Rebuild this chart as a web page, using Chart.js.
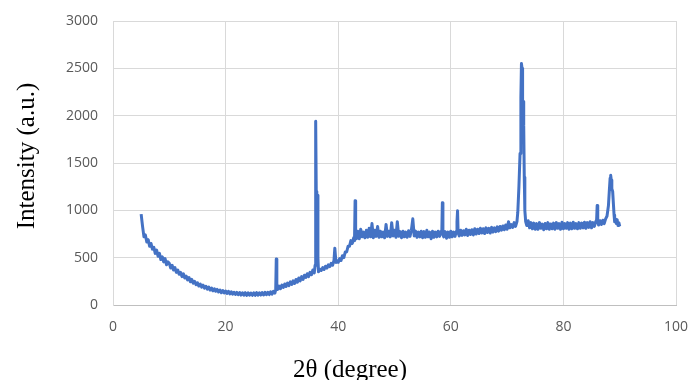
<!DOCTYPE html>
<html>
<head>
<meta charset="utf-8">
<script src="https://cdn.jsdelivr.net/npm/chart.js@4"></script>
<style>
  html, body { margin: 0; padding: 0; background: #ffffff; }
  #wrap { width: 690px; height: 380px; }
</style>
</head>
<body>
<div id="wrap"><canvas id="xrd"></canvas></div>
<script>
// 2θ (degree)
const twoTheta = [
  5.0, 5.25, 5.5, 5.75, 6.0, 6.25, 6.5, 6.75, 7.0, 7.25,
  7.5, 7.75, 8.0, 8.25, 8.5, 8.75, 9.0, 9.25, 9.5, 9.75,
  10.0, 10.25, 10.5, 10.75, 11.0, 11.25, 11.5, 11.75, 12.0, 12.25,
  12.5, 12.75, 13.0, 13.25, 13.5, 13.75, 14.0, 14.25, 14.5, 14.75,
  15.0, 15.25, 15.5, 15.75, 16.0, 16.25, 16.5, 16.75, 17.0, 17.25,
  17.5, 17.75, 18.0, 18.25, 18.5, 18.75, 19.0, 19.25, 19.5, 19.75,
  20.0, 20.25, 20.5, 20.75, 21.0, 21.25, 21.5, 21.75, 22.0, 22.25,
  22.5, 22.75, 23.0, 23.25, 23.5, 23.75, 24.0, 24.25, 24.5, 24.75,
  25.0, 25.25, 25.5, 25.75, 26.0, 26.25, 26.5, 26.75, 27.0, 27.25,
  27.5, 27.75, 28.0, 28.25, 28.5, 28.75, 28.9, 29.0, 29.1, 29.25,
  29.5, 29.75, 30.0, 30.25, 30.5, 30.75, 31.0, 31.25, 31.5, 31.75,
  32.0, 32.25, 32.5, 32.75, 33.0, 33.25, 33.5, 33.75, 34.0, 34.25,
  34.5, 34.75, 35.0, 35.25, 35.5, 35.75, 35.9, 36.0, 36.1, 36.2,
  36.3, 36.4, 36.5, 36.75, 37.0, 37.25, 37.5, 37.75, 38.0, 38.25,
  38.5, 38.75, 39.0, 39.25, 39.4, 39.6, 39.75, 40.0, 40.25, 40.5,
  40.75, 41.0, 41.25, 41.5, 41.75, 42.0, 42.25, 42.5, 42.75, 42.9,
  43.0, 43.1, 43.25, 43.5, 43.75, 44.0, 44.25, 44.5, 44.75, 45.0,
  45.25, 45.5, 45.75, 46.0, 46.25, 46.5, 46.75, 47.0, 47.25, 47.5,
  47.75, 48.0, 48.25, 48.5, 48.75, 49.0, 49.25, 49.5, 49.75, 50.0,
  50.25, 50.5, 50.75, 51.0, 51.25, 51.5, 51.75, 52.0, 52.25, 52.5,
  52.75, 53.0, 53.25, 53.5, 53.75, 54.0, 54.25, 54.5, 54.75, 55.0,
  55.25, 55.5, 55.75, 56.0, 56.25, 56.5, 56.75, 57.0, 57.25, 57.5,
  57.75, 58.0, 58.25, 58.4, 58.5, 58.6, 58.75, 59.0, 59.25, 59.5,
  59.75, 60.0, 60.25, 60.5, 60.75, 61.0, 61.1, 61.2, 61.3, 61.5,
  61.75, 62.0, 62.25, 62.5, 62.75, 63.0, 63.25, 63.5, 63.75, 64.0,
  64.25, 64.5, 64.75, 65.0, 65.25, 65.5, 65.75, 66.0, 66.25, 66.5,
  66.75, 67.0, 67.25, 67.5, 67.75, 68.0, 68.25, 68.5, 68.75, 69.0,
  69.25, 69.5, 69.75, 70.0, 70.25, 70.5, 70.75, 71.0, 71.25, 71.5,
  71.75, 71.9, 72.1, 72.3, 72.45, 72.55, 72.65, 72.75, 72.85, 72.95,
  73.05, 73.15, 73.3, 73.5, 73.75, 74.0, 74.25, 74.5, 74.75, 75.0,
  75.25, 75.5, 75.75, 76.0, 76.25, 76.5, 76.75, 77.0, 77.25, 77.5,
  77.75, 78.0, 78.25, 78.5, 78.75, 79.0, 79.25, 79.5, 79.75, 80.0,
  80.25, 80.5, 80.75, 81.0, 81.25, 81.5, 81.75, 82.0, 82.25, 82.5,
  82.75, 83.0, 83.25, 83.5, 83.75, 84.0, 84.25, 84.5, 84.75, 85.0,
  85.25, 85.5, 85.75, 85.9, 86.0, 86.1, 86.25, 86.5, 86.75, 87.0,
  87.25, 87.5, 87.75, 88.0, 88.15, 88.3, 88.4, 88.5, 88.6, 88.75,
  88.9, 89.0, 89.1, 89.25, 89.4, 89.55, 89.7, 89.85, 90.0
];

// Intensidad (a.u.), mismo orden que twoTheta
const intensity = [
  960, 830, 720, 740, 665, 690, 620, 650, 590, 610,
  545, 580, 515, 545, 480, 510, 455, 490, 425, 455,
  440, 390, 420, 370, 395, 345, 370, 325, 345, 300,
  330, 285, 305, 265, 290, 245, 270, 230, 250, 215,
  235, 200, 222, 188, 210, 178, 198, 168, 190, 158,
  180, 150, 172, 145, 165, 138, 158, 130, 152, 128,
  148, 122, 145, 118, 140, 115, 135, 112, 133, 108,
  132, 105, 128, 104, 130, 102, 128, 103, 127, 102,
  128, 102, 130, 104, 129, 105, 132, 106, 133, 108,
  135, 110, 140, 115, 145, 125, 160, 485, 175, 165,
  200, 172, 210, 185, 222, 195, 232, 205, 245, 218,
  255, 228, 270, 240, 285, 255, 300, 270, 315, 290,
  330, 300, 345, 320, 370, 340, 420, 1940, 1200, 700,
  1160, 500, 350, 380, 365, 395, 375, 410, 390, 425,
  405, 440, 420, 470, 600, 450, 470, 450, 490, 470,
  520, 500, 560, 560, 620, 620, 680, 650, 710, 680,
  1100, 760, 700, 780, 700, 800, 720, 770, 710, 790,
  715, 810, 720, 860, 710, 790, 725, 830, 715, 780,
  720, 770, 710, 850, 725, 780, 720, 870, 730, 790,
  715, 880, 725, 775, 710, 780, 720, 770, 715, 785,
  725, 790, 910, 730, 780, 715, 770, 720, 780, 710,
  775, 715, 790, 720, 770, 700, 780, 715, 770, 720,
  780, 725, 775, 760, 1080, 740, 720, 775, 705, 770,
  715, 780, 720, 770, 725, 780, 880, 995, 760, 730,
  790, 735, 785, 740, 800, 735, 790, 745, 795, 740,
  805, 750, 800, 755, 810, 760, 805, 755, 815, 765,
  810, 760, 820, 770, 815, 775, 825, 780, 830, 790,
  835, 795, 845, 800, 880, 815, 850, 820, 870, 830,
  880, 980, 1250, 1600, 2200, 2550, 2500, 1760, 2150, 1900,
  1350, 1000, 880, 840, 890, 815, 870, 805, 865, 800,
  860, 800, 870, 810, 855, 795, 860, 805, 870, 800,
  855, 805, 865, 800, 870, 810, 860, 800, 875, 805,
  860, 810, 870, 800, 865, 805, 875, 810, 860, 805,
  870, 810, 865, 815, 875, 810, 870, 820, 880, 815,
  870, 830, 880, 900, 1050, 880, 845, 890, 850, 895,
  860, 910, 940, 1050, 1200, 1340, 1370, 1320, 1230, 1200,
  1050, 950, 880, 910, 860, 900, 840, 870, 830
];

const xTicks = [0, 20, 40, 60, 80, 100];
const yTicks = [0, 500, 1000, 1500, 2000, 2500, 3000];

const puntos = twoTheta.map((x, i) => ({ x: x, y: intensity[i] }));

// Títulos de ejes dibujados a mano (en la imagen no están centrados en el área)
const titulosEjes = {
    id: 'titulosEjes',
    afterDraw(chart) {
        const c = chart.ctx;
        c.save();
        c.fillStyle = '#000000';
        c.font = '25px "Liberation Serif"';
        c.textAlign = 'center';
        c.textBaseline = 'alphabetic';
        c.fillText('2θ (degree)', 350, 377);
        c.translate(34, 156);
        c.rotate(-Math.PI / 2);
        c.fillText('Intensity (a.u.)', 0, 0);
        c.restore();
    }
};

const ctx = document.getElementById('xrd').getContext('2d');

new Chart(ctx, {
    type: 'line',
    data: {
        datasets: [{
            data: puntos,
            borderColor: '#4472C4',
            borderWidth: 3,
            borderJoinStyle: 'round',
            pointRadius: 0,
            tension: 0,
            fill: false
        }]
    },
    options: {
        responsive: true,
        maintainAspectRatio: false,
        animation: false,
        layout: { padding: { left: 0, right: 14, top: 21, bottom: 0 } },
        plugins: {
            legend: { display: false },
            tooltip: { enabled: false }
        },
        scales: {
            x: {
                type: 'linear',
                min: xTicks[0],
                max: xTicks[xTicks.length - 1],
                afterBuildTicks: (axis) => { axis.ticks = xTicks.map(v => ({ value: v })); },
                afterFit: (axis) => {
                    axis.height = 75;
                    axis.paddingLeft = 0;
                    axis.paddingRight = 0;
                },
                grid: { color: '#d9d9d9', drawTicks: false },
                border: { color: '#bfbfbf' },
                ticks: {
                    padding: 14,
                    color: '#595959',
                    font: { family: 'Open Sans', size: 14 }
                }
            },
            y: {
                min: yTicks[0],
                max: yTicks[yTicks.length - 1],
                afterBuildTicks: (axis) => { axis.ticks = yTicks.map(v => ({ value: v })); },
                afterFit: (axis) => {
                    axis.width = 113;
                    axis.paddingTop = 0;
                    axis.paddingBottom = 0;
                },
                grid: { color: '#d9d9d9', drawTicks: false },
                border: { color: '#d9d9d9' },
                ticks: {
                    padding: 15,
                    color: '#595959',
                    font: { family: 'Open Sans', size: 14 },
                    callback: (v) => String(v)
                }
            }
        }
    },
    plugins: [titulosEjes]
});
</script>
</body>
</html>
